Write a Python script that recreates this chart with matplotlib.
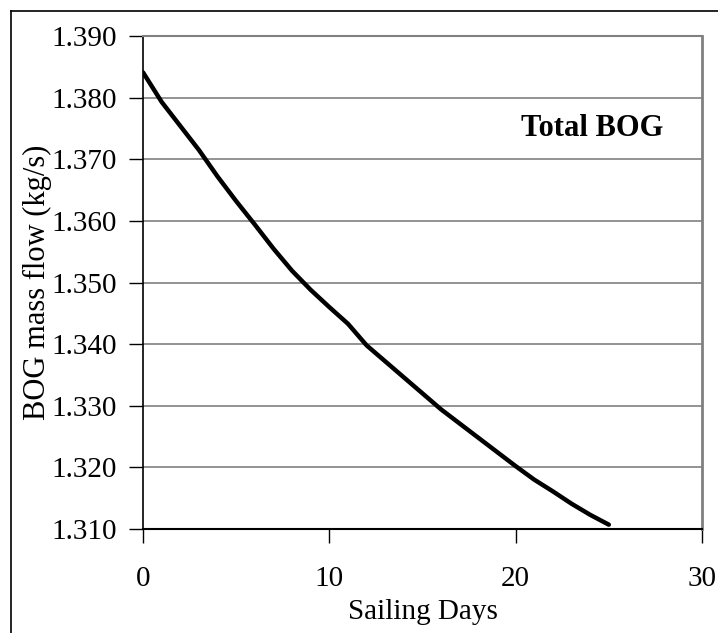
import matplotlib.pyplot as plt
from matplotlib.lines import Line2D

# BOG mass flow vs sailing days
days = [0, 1, 2, 3, 4, 5, 6, 7, 8, 9, 10, 11, 12, 13, 14, 15, 16, 17, 18, 19, 20, 21, 22, 23, 24, 25]
bog = [1.3841, 1.3793, 1.3754, 1.3715, 1.3672, 1.3632, 1.3594, 1.3555, 1.3519, 1.3488, 1.3460,
       1.3433, 1.3398, 1.3372, 1.3346, 1.3320, 1.3294, 1.3271, 1.3248, 1.3225, 1.3202, 1.3180,
       1.3161, 1.3141, 1.3123, 1.3107]

yticks = [1.310, 1.320, 1.330, 1.340, 1.350, 1.360, 1.370, 1.380, 1.390]
xticks = [0, 10, 20, 30]

plt.rcParams['font.family'] = ['Liberation Serif', 'DejaVu Serif']

fig = plt.figure(figsize=(7.18, 6.33), dpi=100)
ax = fig.add_axes([0.1992, 0.1643, 0.7785, 0.7788])

ax.plot(days, bog, color='black', lw=3.2, solid_capstyle='round', zorder=3)

ax.set_xlim(0, 30)
ax.set_ylim(1.310, 1.390)
ax.set_xticks(xticks)
ax.set_yticks(yticks)
ax.set_yticklabels(['%.3f' % v for v in yticks])
ax.yaxis.grid(True, color='#808080', lw=1.2)
ax.set_axisbelow(True)

ax.tick_params(axis='y', direction='out', length=10, width=1, labelsize=21, pad=9)
ax.tick_params(axis='x', direction='out', length=10, width=1, labelsize=21, pad=17)

ax.spines['left'].set_color('black')
ax.spines['bottom'].set_color('black')
ax.spines['left'].set_linewidth(1.2)
ax.spines['bottom'].set_linewidth(1.5)
ax.spines['right'].set_color('#808080')
ax.spines['right'].set_linewidth(2)
ax.spines['top'].set_color('#808080')
ax.spines['top'].set_linewidth(1.5)

ax.set_xlabel('Sailing Days', fontsize=21)
ax.xaxis.set_label_coords(0.5, -0.143)
ax.set_ylabel('BOG mass flow (kg/s)', fontsize=22)
ax.yaxis.set_label_coords(-0.163, 0.5)

ax.text(24.1, 1.3750, 'Total BOG', fontsize=22, fontweight='bold', ha='center', va='center')

# outer frame (only left and top visible)
fig.add_artist(Line2D([0.0153, 0.0153], [0, 0.9826], color='black', lw=1.2, transform=fig.transFigure))
fig.add_artist(Line2D([0.0153, 1], [0.9826, 0.9826], color='black', lw=1.2, transform=fig.transFigure))

fig.savefig('out.png', dpi=100)
